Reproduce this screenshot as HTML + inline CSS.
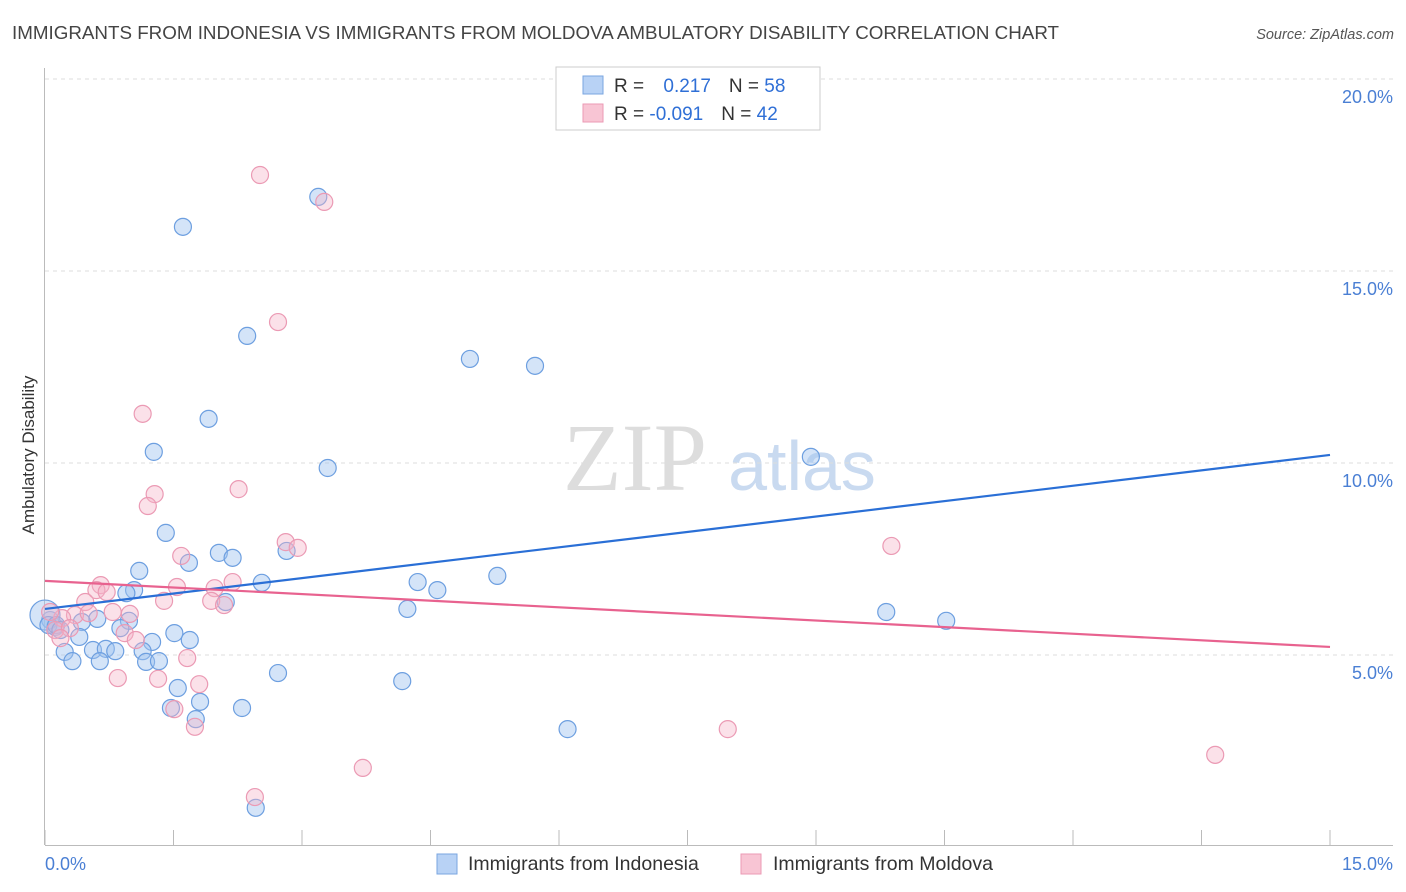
<!DOCTYPE html>
<html><head><meta charset="utf-8"><style>
body{margin:0;background:#fff;font-family:"Liberation Sans",sans-serif}
svg{display:block}
</style></head><body>
<svg id="chart" width="1406" height="892" viewBox="0 0 1406 892" xmlns="http://www.w3.org/2000/svg">
<text x="12" y="39" font-size="18.8" fill="#444">IMMIGRANTS FROM INDONESIA VS IMMIGRANTS FROM MOLDOVA AMBULATORY DISABILITY CORRELATION CHART</text>
<text x="1394" y="39" font-size="14.5" fill="#555" font-style="italic" text-anchor="end">Source: ZipAtlas.com</text>
<g>
<text x="635" y="490" font-size="96" font-family="Liberation Serif,serif" fill="#ddd" text-anchor="middle">ZIP</text>
<text x="802" y="490" font-size="70" fill="#c9daf0" text-anchor="middle">atlas</text>
</g>
<g id="grid"></g>
<g id="axes"></g>
<g id="pts"></g>
<g id="lines"></g>
<text transform="translate(34,455) rotate(-90)" font-size="17" fill="#333" text-anchor="middle">Ambulatory Disability</text>
<g>
<rect x="556" y="67" width="264" height="63" fill="#fff" stroke="#ccc"/>
<rect x="583" y="76" width="20" height="18" fill="#b8d2f5" stroke="#7aa6e0"/>
<rect x="583" y="104" width="20" height="18" fill="#f8c5d4" stroke="#eb9ab4"/>
<text x="614" y="92" font-size="19" fill="#333">R = <tspan fill="#2f6fd6" dx="14">0.217</tspan><tspan dx="18" fill="#333">N = </tspan><tspan fill="#2f6fd6">58</tspan></text>
<text x="614" y="120" font-size="19" fill="#333">R = <tspan fill="#2f6fd6">-0.091</tspan><tspan dx="18" fill="#333">N = </tspan><tspan fill="#2f6fd6">42</tspan></text>
</g>
<g>
<rect x="437" y="854" width="20" height="20" fill="#b8d2f5" stroke="#7aa6e0"/>
<text x="468" y="870" font-size="19.5" fill="#333">Immigrants from Indonesia</text>
<rect x="741" y="854" width="20" height="20" fill="#f8c5d4" stroke="#eb9ab4"/>
<text x="773" y="870" font-size="19.5" fill="#333">Immigrants from Moldova</text>
</g>
</svg>
<script>
const blueX=[1.61,3.19,2.36,4.96,5.72,1.91,1.27,3.30,8.94,1.41,2.03,2.19,2.82,1.68,1.10,2.53,4.35,5.28,4.58,1.04,0.95,2.11,4.23,9.82,10.52,0.61,0.43,0.98,0.88,0.06,0.12,0.40,1.25,1.51,1.69,0.23,0.56,0.71,0.82,1.14,0.32,0.64,1.18,1.33,2.72,4.17,1.55,1.81,1.47,2.30,1.76,6.10,2.46,0.00,0.04,0.13,0.18];
const blueY=[16.15,16.93,13.31,12.71,12.53,11.15,10.29,9.87,10.16,8.18,7.66,7.53,7.71,7.40,7.19,6.88,6.90,7.06,6.69,6.69,6.61,6.38,6.20,6.12,5.89,5.94,5.86,5.89,5.70,5.91,5.73,5.47,5.34,5.57,5.39,5.08,5.13,5.16,5.10,5.10,4.84,4.84,4.82,4.84,4.53,4.32,4.14,3.78,3.62,3.62,3.33,3.07,1.02,6.04,5.78,5.78,5.65];
const pinkX=[2.51,3.26,2.72,1.14,1.28,2.26,1.20,2.81,2.95,1.59,9.88,0.65,0.60,1.54,2.19,0.72,1.98,1.39,0.47,1.94,2.09,0.99,0.79,0.35,0.51,0.93,1.06,0.20,0.12,0.29,0.18,1.66,0.85,1.32,1.80,1.51,1.75,7.97,3.71,13.66,2.45,0.06];
const pinkY=[17.50,16.80,13.67,11.28,9.19,9.32,8.88,7.94,7.79,7.58,7.84,6.82,6.69,6.77,6.90,6.64,6.74,6.41,6.38,6.41,6.30,6.07,6.12,6.04,6.09,5.57,5.39,5.96,5.65,5.70,5.44,4.92,4.40,4.38,4.24,3.59,3.13,3.07,2.06,2.40,1.30,6.12];
const blueTrend=[6.20,10.21];
const pinkTrend=[6.93,5.21];
const yTicks=[5,10,15,20];
const yTickLabels=["5.0%","10.0%","15.0%","20.0%"];
const NS="http://www.w3.org/2000/svg";
const X=v=>45+v/15*1285;
const Y=v=>847-v*38.4;
function mk(tag,attrs,parent){const e=document.createElementNS(NS,tag);for(const k in attrs)e.setAttribute(k,attrs[k]);parent.appendChild(e);return e;}
const grid=document.getElementById('grid'),axes=document.getElementById('axes'),pts=document.getElementById('pts'),lines=document.getElementById('lines');
yTicks.forEach((t,i)=>{
 const l=mk('line',{x1:45,x2:1393,y1:Y(t),y2:Y(t),stroke:'#ddd','stroke-dasharray':'4,4'},grid);
 
 
 const tx=mk('text',{x:1393,y:Y(t)+24,'font-size':18,fill:'#4a7fd4','text-anchor':'end'},axes);
 tx.textContent=yTickLabels[i];
 
 
});
const ya=mk('line',{x1:44.5,x2:44.5,y1:68,y2:845,stroke:'#bbb'},axes);


const xa=mk('line',{x1:45,x2:1393,y1:845.5,y2:845.5,stroke:'#bbb'},axes);


for(let i=0;i<=10;i++){const v=i*1.5;const tk=mk('line',{x1:X(v),x2:X(v),y1:830,y2:845,stroke:'#bbb'},axes);
 
 }
const xl0=mk('text',{x:45,y:870,'font-size':18,fill:'#4a7fd4'},axes);xl0.textContent='0.0%';


const xl1=mk('text',{x:1393,y:870,'font-size':18,fill:'#4a7fd4','text-anchor':'end'},axes);xl1.textContent='15.0%';


blueX.forEach((v,i)=>{const c=mk('circle',{cx:X(v),cy:Y(blueY[i]),r:(i==53?15:8.5),fill:'rgba(160,195,240,0.45)',stroke:'#6d9fe0','stroke-width':1.2},pts);
 
 });
pinkX.forEach((v,i)=>{const c=mk('circle',{cx:X(v),cy:Y(pinkY[i]),r:8.5,fill:'rgba(245,180,200,0.4)',stroke:'#eb9ab4','stroke-width':1.2},pts);
 
 });
const bl=mk('line',{x1:X(0),x2:X(15),y1:Y(blueTrend[0]),y2:Y(blueTrend[1]),stroke:'#2a6fd6','stroke-width':2.2},lines);


const pl=mk('line',{x1:X(0),x2:X(15),y1:Y(pinkTrend[0]),y2:Y(pinkTrend[1]),stroke:'#e8628f','stroke-width':2.2},lines);


</script>
</body></html>
